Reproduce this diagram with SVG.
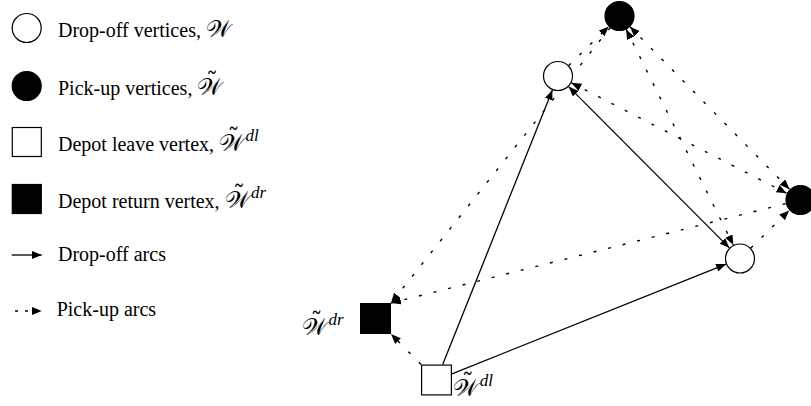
<svg xmlns="http://www.w3.org/2000/svg" width="811" height="406" viewBox="0 0 811 406">
<style>
text{font-family:"Liberation Serif",serif;font-size:20px;fill:#000}
.cal{font-family:"DejaVu Serif","DejaVu Sans",serif;font-size:24px}
.sup{font-family:"Liberation Serif",serif;font-style:italic;font-size:17px}
.wn{fill:#fff;stroke:#000;stroke-width:1.2}
.bn{fill:#000;stroke:#000;stroke-width:1.2}
.solid{fill:none;stroke:#000;stroke-width:1.3}
.dot{fill:none;stroke:#000;stroke-width:1.4;stroke-dasharray:3 12}
.ldot{fill:none;stroke:#000;stroke-width:1.4;stroke-dasharray:3 7}
</style>
<defs>
<marker id="ah" viewBox="0 0 10 8" refX="10" refY="4" markerWidth="10" markerHeight="8" markerUnits="userSpaceOnUse" orient="auto-start-reverse"><path d="M0,0 L10,4 L0,8 z" fill="#000"/></marker>
</defs>
<g id="legend">
<circle class="wn" cx="26.7" cy="28" r="14.5"/>
<text x="58" y="37">Drop-off vertices, <tspan class="cal">𝒲</tspan></text>
<circle class="bn" cx="26.7" cy="86" r="14.5"/>
<text x="58" y="95">Pick-up vertices, <tspan class="cal" dx="0 -16.5" dy="0 -5">𝒲˜</tspan></text>
<rect class="wn" x="12.3" y="127.5" width="29" height="29"/>
<text x="58" y="151">Depot leave vertex, <tspan class="cal" dx="0 -16.5" dy="0 -5">𝒲˜</tspan><tspan class="sup" dx="6" dy="-5">dl</tspan></text>
<rect class="bn" x="12.3" y="184.5" width="29" height="29"/>
<text x="58" y="208">Depot return vertex, <tspan class="cal" dx="0 -16.5" dy="0 -5">𝒲˜</tspan><tspan class="sup" dx="6" dy="-5">dr</tspan></text>
<line class="solid" x1="11.7" y1="255" x2="41.7" y2="255" marker-end="url(#ah)"/>
<text x="58" y="261">Drop-off arcs</text>
<line class="ldot" x1="15" y1="311" x2="41.7" y2="311" marker-end="url(#ah)"/>
<text x="56.7" y="316">Pick-up arcs</text>
</g>
<g id="connectors">
<line class="solid" x1="442.7" y1="364.5" x2="552.4" y2="89.9" marker-end="url(#ah)"/>
<line class="solid" x1="452" y1="373.8" x2="726.1" y2="264.1" marker-end="url(#ah)"/>
<line class="solid" x1="568.6" y1="86.6" x2="729.4" y2="247.9" marker-start="url(#ah)" marker-end="url(#ah)"/>
<line class="dot" x1="568.7" y1="65.5" x2="608.8" y2="26.5" marker-end="url(#ah)"/>
<line class="dot" x1="630.0" y1="26.7" x2="789.5" y2="189.3" marker-start="url(#ah)" marker-end="url(#ah)"/>
<line class="dot" x1="571.4" y1="82.8" x2="786.6" y2="193.2" marker-start="url(#ah)" marker-end="url(#ah)"/>
<line class="dot" x1="626.2" y1="29.4" x2="733.3" y2="245.1" marker-start="url(#ah)" marker-end="url(#ah)"/>
<line class="dot" x1="750.8" y1="248.1" x2="789.2" y2="210.4" marker-end="url(#ah)"/>
<line class="dot" x1="610.2" y1="27.7" x2="391" y2="303" marker-end="url(#ah)"/>
<line class="dot" x1="785.5" y1="203.7" x2="391" y2="303" marker-end="url(#ah)"/>
<line class="dot" x1="421" y1="364.5" x2="391" y2="334" marker-end="url(#ah)"/>
</g>
<g id="D1"><circle class="wn" cx="558" cy="76" r="14.5"/></g>
<g id="D2"><circle class="wn" cx="740" cy="258.5" r="14.5"/></g>
<g id="P1"><circle class="bn" cx="619.5" cy="16" r="14.5"/></g>
<g id="P2"><circle class="bn" cx="800.5" cy="200" r="14.5"/></g>
<g id="DR"><rect class="bn" x="360.6" y="303.6" width="29.8" height="29.8"/>
<text x="302" y="335"><tspan class="cal" dx="0 -16.5" dy="0 -5">𝒲˜</tspan><tspan class="sup" dx="6" dy="-5">dr</tspan></text></g>
<g id="DL"><rect class="wn" x="421.6" y="365.1" width="29.8" height="29.8"/>
<text x="453.3" y="396"><tspan class="cal" dx="0 -16.5" dy="0 -5">𝒲˜</tspan><tspan class="sup" dx="6" dy="-5">dl</tspan></text></g>
</svg>
